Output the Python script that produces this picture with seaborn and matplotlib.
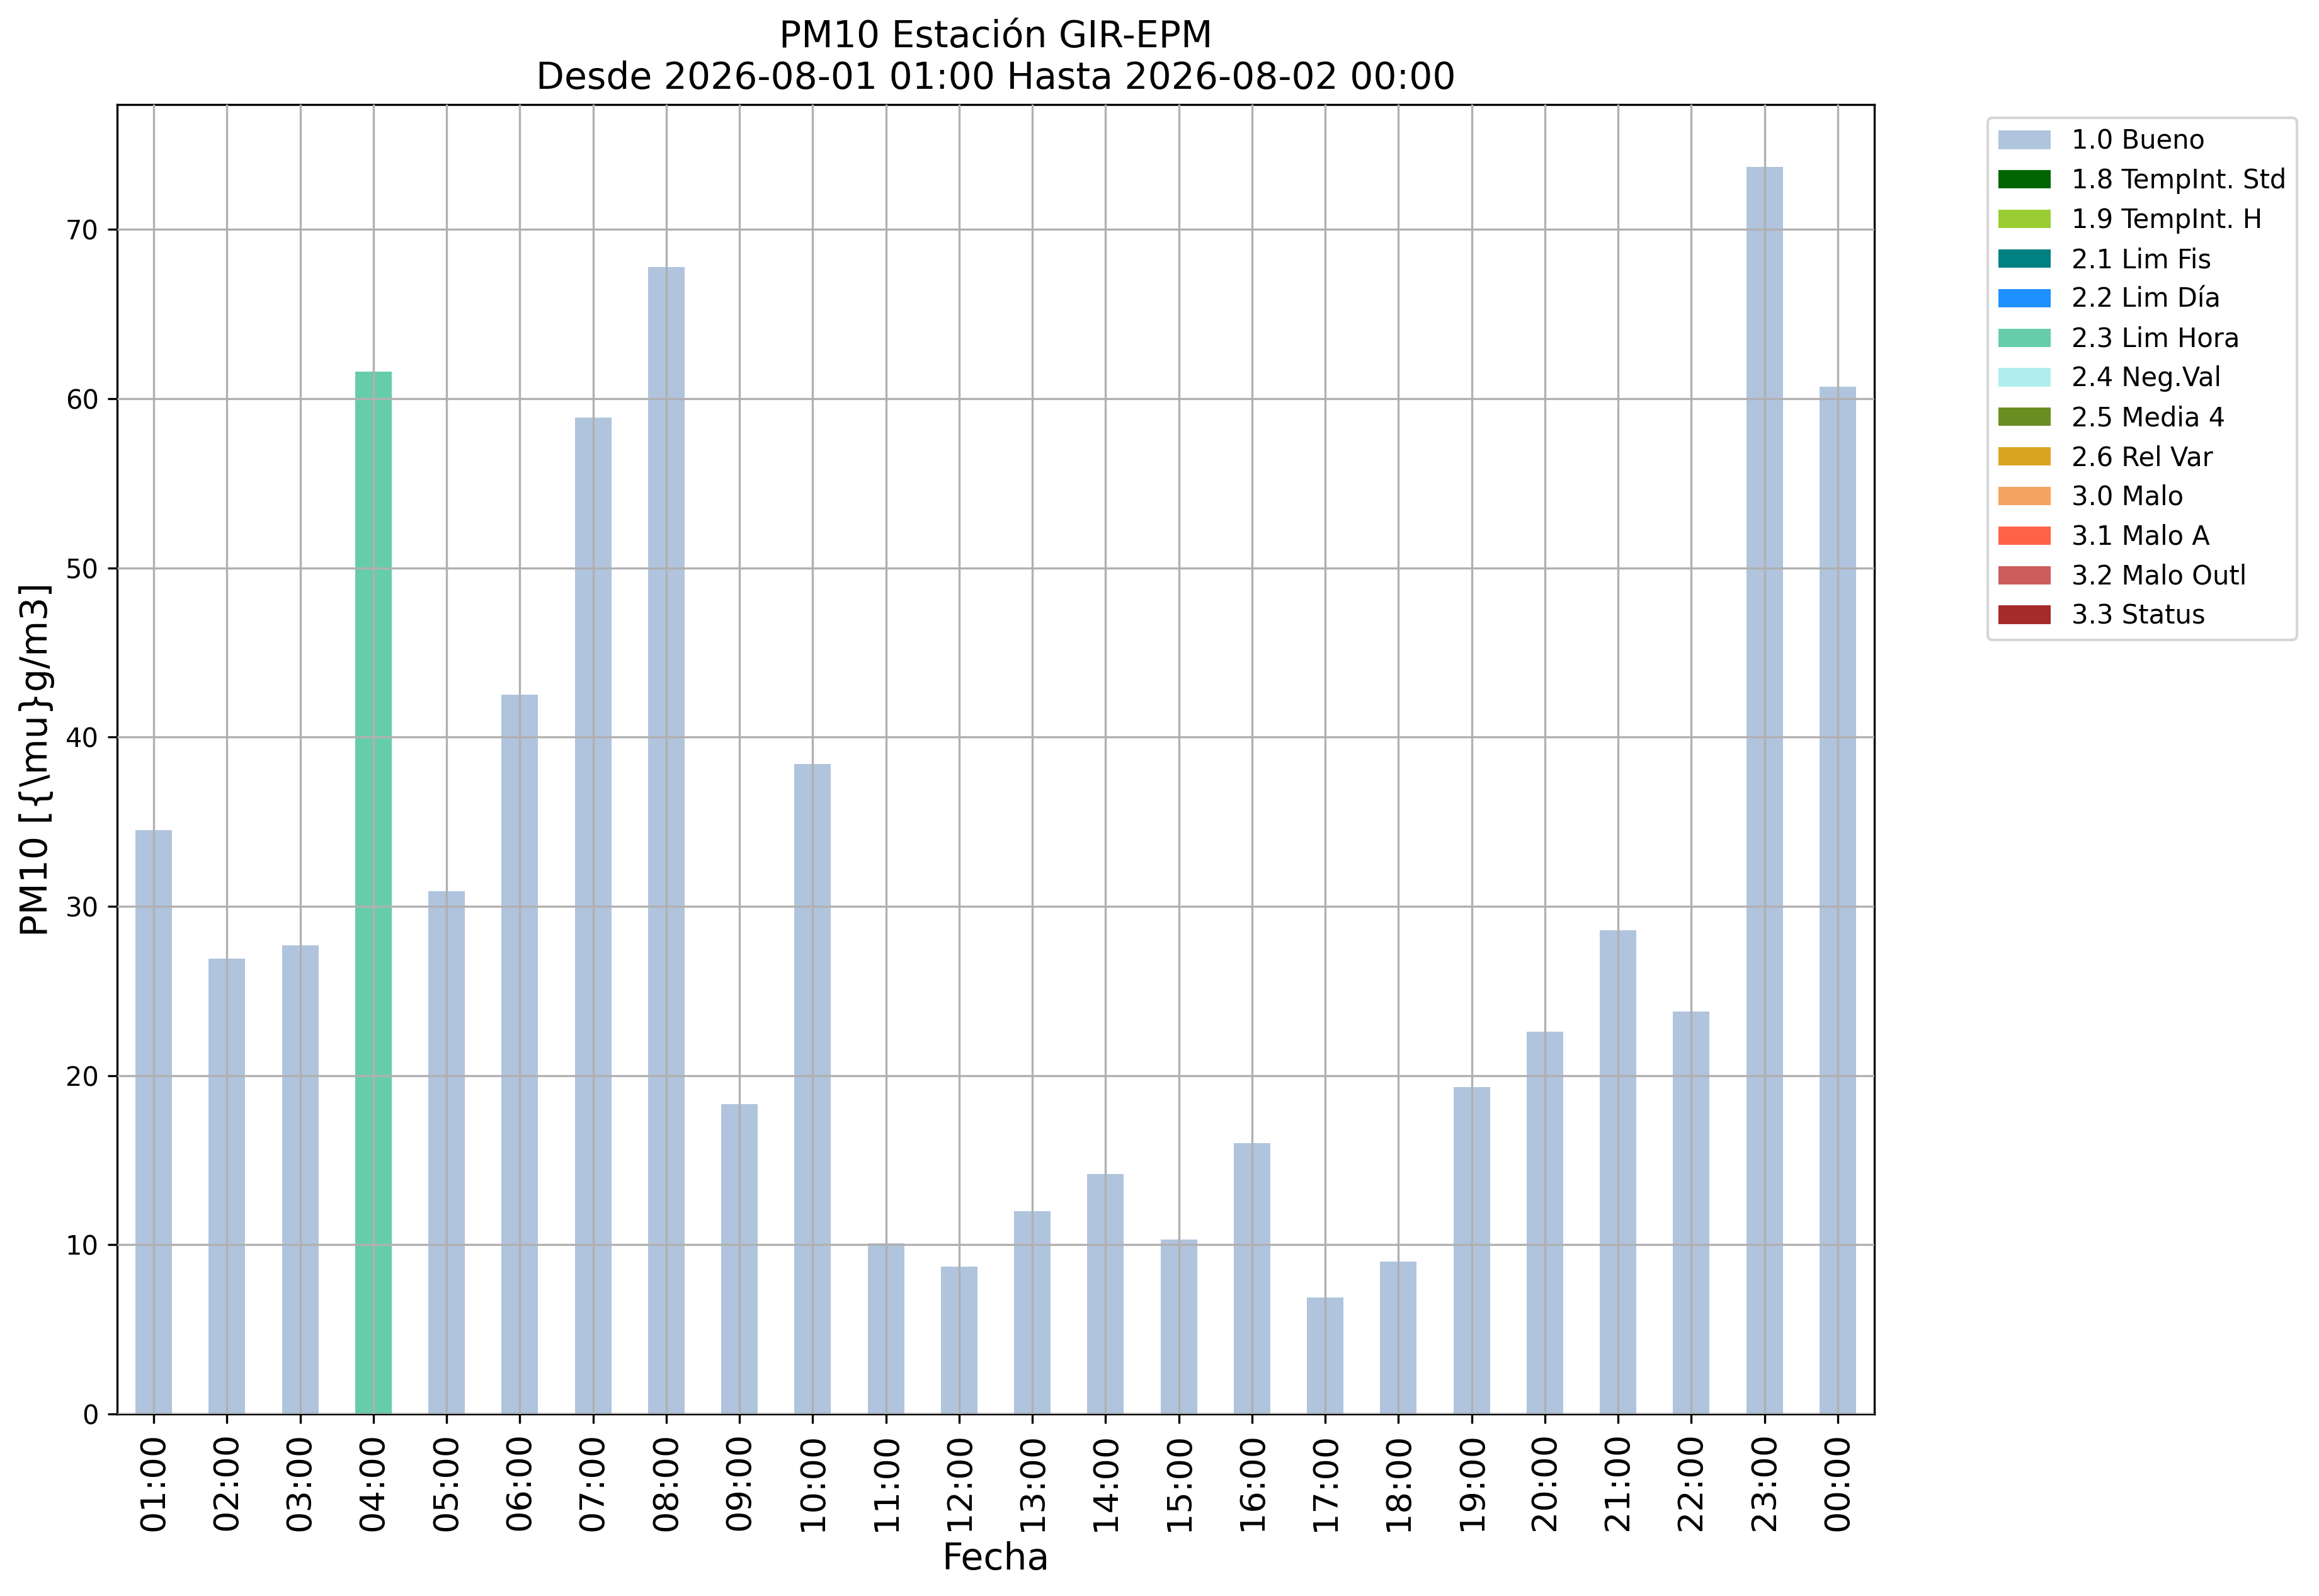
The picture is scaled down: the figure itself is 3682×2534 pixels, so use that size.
import matplotlib
matplotlib.use("Agg")
import matplotlib.pyplot as plt
from matplotlib.patches import Patch
import seaborn as sns
import pandas as pd

# ---- data ----
hours = ["01:00", "02:00", "03:00", "04:00", "05:00", "06:00", "07:00", "08:00",
         "09:00", "10:00", "11:00", "12:00", "13:00", "14:00", "15:00", "16:00",
         "17:00", "18:00", "19:00", "20:00", "21:00", "22:00", "23:00", "00:00"]
values = [34.5, 26.9, 27.7, 61.6, 30.9, 42.5, 58.9, 67.8,
          18.3, 38.4, 10.1, 8.7, 12.0, 14.2, 10.3, 16.0,
          6.9, 9.0, 19.3, 22.6, 28.6, 23.8, 73.7, 60.7]
flags = ["1.0 Bueno", "1.0 Bueno", "1.0 Bueno", "2.3 Lim Hora", "1.0 Bueno", "1.0 Bueno",
         "1.0 Bueno", "1.0 Bueno", "1.0 Bueno", "1.0 Bueno", "1.0 Bueno", "1.0 Bueno",
         "1.0 Bueno", "1.0 Bueno", "1.0 Bueno", "1.0 Bueno", "1.0 Bueno", "1.0 Bueno",
         "1.0 Bueno", "1.0 Bueno", "1.0 Bueno", "1.0 Bueno", "1.0 Bueno", "1.0 Bueno"]
flag_labels = ["1.0 Bueno", "1.8 TempInt. Std", "1.9 TempInt. H", "2.1 Lim Fis",
               "2.2 Lim Día", "2.3 Lim Hora", "2.4 Neg.Val", "2.5 Media 4",
               "2.6 Rel Var", "3.0 Malo", "3.1 Malo A", "3.2 Malo Outl", "3.3 Status"]
flag_colors = ["lightsteelblue", "darkgreen", "yellowgreen", "teal",
               "dodgerblue", "mediumaquamarine", "paleturquoise", "olivedrab",
               "goldenrod", "sandybrown", "tomato", "indianred", "brown"]

df = pd.DataFrame({"Fecha": hours, "PM10": values, "flag": flags})
palette = dict(zip(flag_labels, flag_colors))

W, H, DPI = 3682, 2534, 300
fig, ax = plt.subplots(figsize=(W / DPI, H / DPI), dpi=DPI)
fig.subplots_adjust(left=186 / W, right=2976 / W, bottom=1 - 2245 / H, top=1 - 166 / H)

sns.barplot(data=df, x="Fecha", y="PM10", hue="flag", hue_order=flag_labels,
            palette=palette, dodge=False, width=0.5, saturation=1,
            errorbar=None, legend=False, ax=ax, order=hours)

ax.set_xlim(-0.5, len(hours) - 0.5)
ax.grid(True, color="#b0b0b0", linewidth=0.8)
ax.set_axisbelow(False)

ax.tick_params(axis="x", labelsize=13, labelrotation=90)
ax.tick_params(axis="y", labelsize=10)
ax.set_xlabel("Fecha", fontsize=14)
ax.set_ylabel("PM10 [{\\mu}g/m3]", fontsize=14)
ax.set_title("PM10 Estación GIR-EPM\nDesde 2026-08-01 01:00 Hasta 2026-08-02 00:00", fontsize=14)

handles = [Patch(facecolor=c, label=l) for l, c in zip(flag_labels, flag_colors)]
ax.legend(handles=handles, loc="upper left", bbox_to_anchor=(1.057, 1.0), fontsize=10)

fig.savefig("out.png", dpi=DPI)
